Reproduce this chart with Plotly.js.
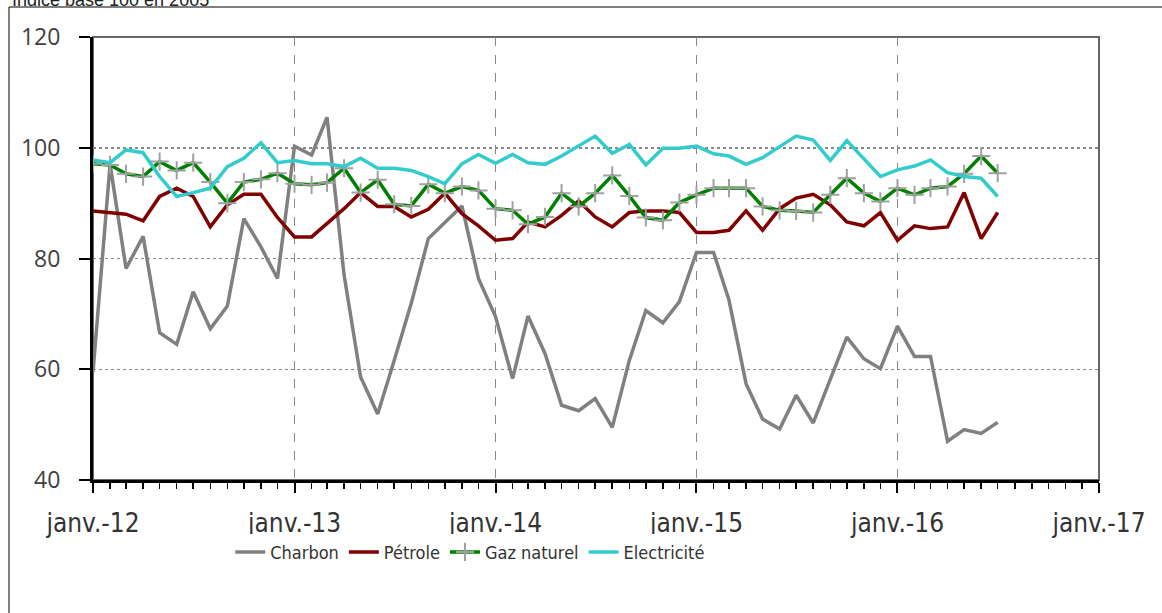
<!DOCTYPE html>
<html>
<head>
<meta charset="utf-8">
<script src="https://cdn.plot.ly/plotly-3.0.1.min.js"></script>
<style>
  html, body { margin: 0; padding: 0; background: #fff; }
  #plot { width: 1162px; height: 613px; }
</style>
</head>
<body>
<div id="plot"></div>
<script>
// Monthly index values, janv. 2012 -> juil. 2016 (base 100 en 2005)
const charbon = [
    59.5, 97, 78.2, 84, 66.6, 64.5, 74, 67.3, 71.4, 87.2, 82.1, 76.4,
    100.3, 98.7, 105.5, 77, 58.6, 51.9, 61.6, 71.9, 83.6, 86.6, 89.5, 76.4,
    69.5, 58.3, 69.6, 62.8, 53.5, 52.5, 54.7, 49.5, 61.6, 70.6, 68.4, 72.2,
    81.1, 81.1, 72.5, 57.4, 51, 49.2, 55.3, 50.3, 58, 65.8, 61.9, 60.1,
    67.8, 62.3, 62.3, 47, 49.1, 48.4, 50.4
];
const petrole = [
    88.6, 88.3, 88, 86.8, 91.2, 92.7, 91.2, 85.7, 89.7, 91.6, 91.6, 87.4,
    83.9, 83.9, 86.3, 89, 91.9, 89.4, 89.4, 87.5, 88.9, 91.8, 88.1, 85.9,
    83.3, 83.6, 86.6, 85.7, 87.8, 90.4, 87.5, 85.7, 88.3, 88.6, 88.6, 88.3,
    84.7, 84.7, 85.1, 88.6, 85.1, 89, 90.9, 91.6, 89.7, 86.6, 85.9, 88.3,
    83.3, 85.9, 85.4, 85.7, 91.9, 83.6, 88.3
];
const gaz = [
    97.1, 96.9, 95.3, 94.8, 97.5, 95.9, 97.3, 93.8, 90, 93.8, 94.3, 95.4,
    93.5, 93.3, 93.7, 96.3, 91.9, 94.2, 89.8, 89.5, 93.4, 91.8, 93, 92.3,
    89, 88.7, 86.2, 87.5, 91.8, 89.4, 91.8, 95, 91.3, 87.4, 86.9, 90.1,
    91.5, 92.7, 92.7, 92.7, 89.4, 88.7, 88.6, 88.3, 91.5, 94.5, 91.8, 90.3,
    92.7, 91.5, 92.7, 93, 95.3, 98.5, 95.4
];
const electricite = [
    97.8, 97.3, 99.6, 99.1, 94.8, 91.2, 91.9, 92.7, 96.6, 98.1, 100.9, 97.3,
    97.7, 97.1, 97.1, 96.6, 98.1, 96.3, 96.3, 95.9, 94.8, 93.5, 97.1, 98.8,
    97.2, 98.8, 97.3, 97, 98.5, 100.3, 102.1, 99, 100.6, 96.9, 99.9, 99.9,
    100.3, 98.9, 98.5, 97, 98.2, 100.2, 102.1, 101.4, 97.7, 101.3, 98.1, 94.8,
    96, 96.7, 97.8, 95.5, 94.8, 94.5, 91.2
];

const yearTicks = ['2012-01-01', '2013-01-01', '2014-01-01', '2015-01-01', '2016-01-01', '2017-01-01'];
const yearLabels = ['janv.-12', 'janv.-13', 'janv.-14', 'janv.-15', 'janv.-16', 'janv.-17'];

// month dates for the x axis
const months = [];
for (let i = 0; i < charbon.length; i++) {
    const y = 2012 + Math.floor(i / 12);
    const m = (i % 12) + 1;
    months.push(y + '-' + String(m).padStart(2, '0') + '-01');
}

const narrow = '"DejaVu Sans Condensed", "Liberation Sans Narrow", sans-serif';

const data = [
    {
        x: months, y: charbon, type: 'scatter', mode: 'lines',
        name: 'Charbon',
        line: { color: '#808080', width: 3.5 }
    },
    {
        x: months, y: petrole, type: 'scatter', mode: 'lines',
        name: 'Pétrole',
        line: { color: '#800000', width: 3.5 }
    },
    {
        x: months, y: gaz, type: 'scatter', mode: 'lines+markers',
        name: 'Gaz naturel',
        line: { color: '#008000', width: 3.5 },
        marker: { symbol: 'cross-thin', size: 13, line: { color: '#a0a0a0', width: 2 } }
    },
    {
        x: months, y: electricite, type: 'scatter', mode: 'lines',
        name: 'Electricité',
        line: { color: '#33CCCC', width: 3.5 }
    }
];

const layout = {
    width: 1162,
    height: 613,
    margin: { l: 93, r: 63, t: 37, b: 133 },
    paper_bgcolor: '#fff',
    plot_bgcolor: '#fff',
    showlegend: true,
    legend: {
        orientation: 'h',
        x: 0.375, xanchor: 'center',
        y: -0.163, yanchor: 'middle',
        font: { family: narrow, size: 18, color: '#333' }
    },
    xaxis: {
        type: 'date',
        range: ['2012-01-01', '2017-01-01'],
        tickvals: yearTicks,
        ticktext: yearLabels,
        ticks: 'outside', ticklen: 10, tickwidth: 2, tickcolor: '#000',
        ticklabelstandoff: 8,
        tickfont: { family: narrow, size: 26, color: '#333' },
        showline: true, linecolor: '#000', linewidth: 3,
        showgrid: true, gridcolor: '#888', gridwidth: 1.5, griddash: 'dash',
        zeroline: false,
        minor: { dtick: 'M1', ticks: 'outside', ticklen: 6, tickwidth: 1.5, tickcolor: '#000', showgrid: false }
    },
    yaxis: {
        range: [40, 120],
        tickvals: [40, 60, 80, 100, 120],
        ticks: 'outside', ticklen: 11, tickwidth: 2, tickcolor: '#000',
        ticklabelstandoff: 14,
        tickfont: { family: '"Open Sans", "Noto Sans", sans-serif', size: 23, color: '#404040' },
        showline: true, linecolor: '#000', linewidth: 3,
        showgrid: true, gridcolor: '#888', gridwidth: 1.5, griddash: 'dot',
        zeroline: false
    },
    shapes: [
        // plot area border (top / right)
        {
            type: 'rect', xref: 'paper', yref: 'paper',
            x0: 0, x1: 1, y0: 0, y1: 1,
            line: { color: '#666', width: 2 }, layer: 'below'
        },
        // outer frame of the figure
        {
            type: 'rect', xref: 'paper', yref: 'paper',
            x0: -0.0835, x1: 1.2, y0: -0.5, y1: 1.0677,
            line: { color: '#000', width: 1 }
        }
    ],
    annotations: [
        {
            text: 'Indice base 100 en 2005',
            xref: 'paper', yref: 'paper',
            x: -0.0825, xanchor: 'left',
            y: 1, yanchor: 'bottom', yshift: 25,
            showarrow: false,
            font: { family: '"Liberation Sans", Arial, sans-serif', size: 18, color: '#222' }
        }
    ]
};

Plotly.newPlot('plot', data, layout, { displayModeBar: false, staticPlot: true });
</script>
</body>
</html>
